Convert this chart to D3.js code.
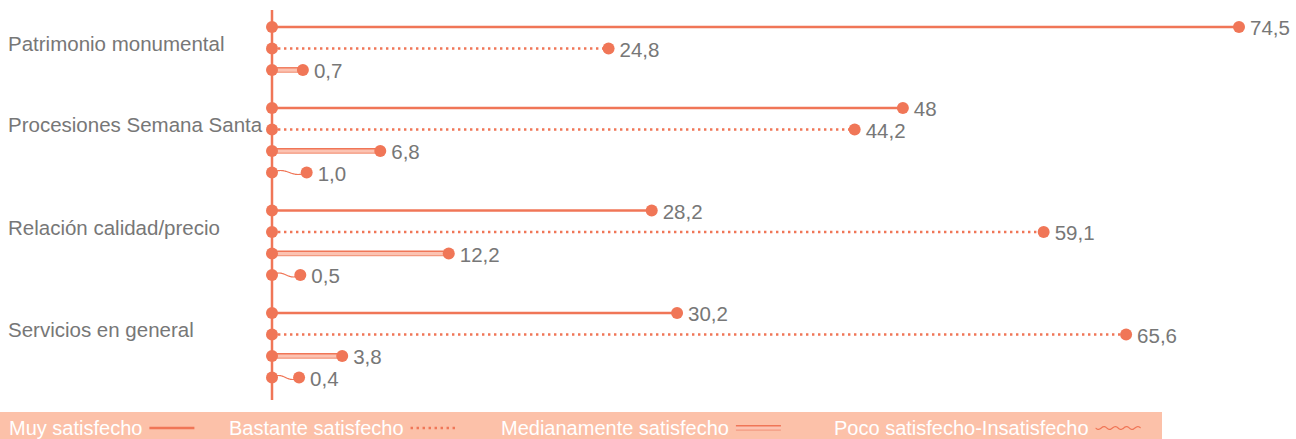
<!DOCTYPE html>
<html>
<head>
<meta charset="utf-8">
<script src="https://cdn.jsdelivr.net/npm/d3@7"></script>
<style>
  body { margin: 0; background: #fff; }
  text { font-family: "Liberation Sans", Arial, sans-serif; }
</style>
</head>
<body>
<svg id="chart"></svg>
<script>
const width = 1296
const height = 439

// data
const categories = ['Patrimonio monumental', 'Procesiones Semana Santa', 'Relación calidad/precio', 'Servicios en general']
const series = ['Muy satisfecho', 'Bastante satisfecho', 'Medianamente satisfecho', 'Poco satisfecho-Insatisfecho']
const muy = [74.5, 48, 28.2, 30.2]
const bastante = [24.8, 44.2, 59.1, 65.6]
const mediana = [0.7, 6.8, 12.2, 3.8]
const poco = [null, 1.0, 0.5, 0.4]
const values = [muy, bastante, mediana, poco]

const orange = '#f07657'
const light = '#fcc3b2'
const axisX = 272

const svg = d3.select('#chart').attr('width', width).attr('height', height)

const x = d3.scaleLinear().domain([0, 74.5]).range([294, 1239])

const fmt = v => (v >= 10 && v === Math.round(v)) ? String(v) : v.toFixed(1).replace('.', ',')

// build rows
const rows = []
const groups = []
let y = 27
categories.forEach((c, ci) => {
  groups.push({ name: c, y0: y })
  values.forEach((vals, si) => {
    const v = vals[ci]
    if (v == null) return
    rows.push({ cat: c, s: si, v: v, y: y })
    y += 21.5
  })
  y += 16.5
})

// axis
svg.append('line')
  .attr('x1', axisX).attr('x2', axisX)
  .attr('y1', 10).attr('y2', 400)
  .attr('stroke', orange).attr('stroke-width', 2.5)

// category labels
svg.append('g').selectAll('text')
  .data(groups)
  .enter().append('text')
  .attr('x', 8)
  .attr('y', d => d.y0 + 24)
  .attr('fill', '#777')
  .attr('font-size', 20.5)
  .text(d => d.name)

function wave(x0, x1, yy, amp, periods) {
  const pts = d3.range(0, 1.0001, 0.02).map(t => [x0 + (x1 - x0) * t, yy + amp * Math.sin(t * Math.PI * 2 * periods)])
  return d3.line().curve(d3.curveBasis)(pts)
}

function drawLine(g, s, x0, x1, yy, legendMode) {
  if (s === 0) {
    g.append('line').attr('x1', x0).attr('x2', x1).attr('y1', yy).attr('y2', yy)
      .attr('stroke', orange).attr('stroke-width', 2.5)
  } else if (s === 1) {
    g.append('line').attr('x1', x0).attr('x2', x1).attr('y1', yy).attr('y2', yy)
      .attr('stroke', orange).attr('stroke-width', 2.4)
      .attr('stroke-dasharray', '2.4,3.6')
  } else if (s === 2) {
    g.append('rect').attr('x', x0).attr('y', yy - 2.5).attr('width', x1 - x0).attr('height', 5)
      .attr('fill', light)
    g.append('line').attr('x1', x0).attr('x2', x1).attr('y1', yy - 2.2).attr('y2', yy - 2.2)
      .attr('stroke', orange).attr('stroke-width', 1.4)
    g.append('line').attr('x1', x0).attr('x2', x1).attr('y1', yy + 2.2).attr('y2', yy + 2.2)
      .attr('stroke', '#f39a80').attr('stroke-width', 1.2)
  } else {
    const amp = legendMode ? 1.5 : 2
    const periods = legendMode ? 4 : 1
    g.append('path').attr('d', wave(x0, x1, yy, legendMode ? amp : -amp, periods))
      .attr('fill', 'none').attr('stroke', orange).attr('stroke-width', 1.2)
  }
}

const rowG = svg.append('g').selectAll('g')
  .data(rows)
  .enter().append('g')

rowG.each(function (d) {
  const g = d3.select(this)
  drawLine(g, d.s, axisX, x(d.v), d.y, false)
  g.append('circle').attr('cx', axisX).attr('cy', d.y).attr('r', 6).attr('fill', orange)
  g.append('circle').attr('cx', x(d.v)).attr('cy', d.y).attr('r', 6).attr('fill', orange)
  g.append('text')
    .attr('x', x(d.v) + 11)
    .attr('y', d.y + 8)
    .attr('fill', '#777')
    .attr('font-size', 20.5)
    .text(fmt(d.v))
})

// legend band
const legend = svg.append('g')
legend.append('rect')
  .attr('x', 0).attr('y', 412).attr('width', 1162).attr('height', 27)
  .attr('fill', '#fcc1a9')

const legendX = [9, 229, 501, 834]
const ly = 428
series.forEach((s, i) => {
  const t = legend.append('text')
    .attr('x', legendX[i]).attr('y', ly + 7)
    .attr('fill', '#fff')
    .attr('font-size', 20)
    .text(s)
  const w = t.node().getComputedTextLength()
  const x0 = legendX[i] + w + 7
  drawLine(legend, i, x0, x0 + 45, ly, true)
})
</script>
</body>
</html>
